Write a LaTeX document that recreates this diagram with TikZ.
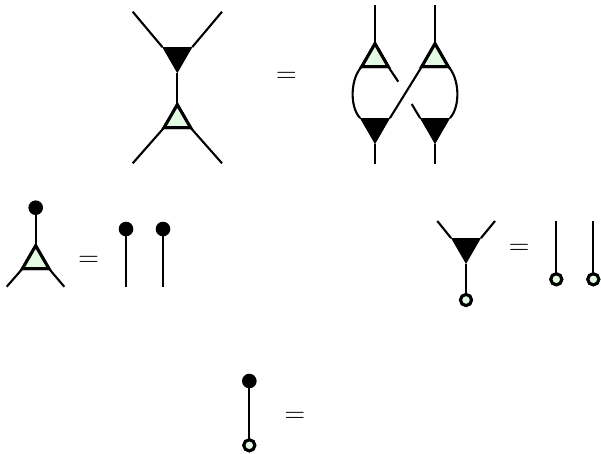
\documentclass[tikz,border=0pt]{standalone}
\usetikzlibrary{shapes.geometric}
\definecolor{paleg}{HTML}{E2F9E2}
\tikzset{
  wire/.style={line width=2.1pt,black},
  gtri/.style={regular polygon,regular polygon sides=3,minimum size=30.5pt,inner sep=0pt,outer sep=0pt,draw=black,fill=paleg,line width=3pt},
  btri/.style={regular polygon,regular polygon sides=3,shape border rotate=180,minimum size=34.5pt,inner sep=0pt,outer sep=0pt,fill=black},
  bdot/.style={circle,minimum size=14.6pt,inner sep=0pt,outer sep=0pt,fill=black},
  wdot/.style={circle,minimum size=11pt,inner sep=0pt,outer sep=0pt,draw=black,fill=paleg,line width=3pt},
  eqn/.style={inner sep=0pt,outer sep=0pt,font=\fontsize{28.5}{30}\selectfont}
}
\begin{document}
\begin{tikzpicture}[x=1pt,y=-1pt]
\useasboundingbox (0,0) rectangle (601,453);
% top left
\node[btri] (a1) at (177.3,55.7) {};
\node[gtri] (a2) at (177.3,120) {};
\coordinate (a3) at (132.7,11.7);
\coordinate (a4) at (222,11.7);
\coordinate (a5) at (132.7,163.3);
\coordinate (a6) at (222,163.3);
\draw[wire] (a3) -- (a1.corner 3);
\draw[wire] (a4) -- (a1.corner 2);
\draw[wire] (a1.corner 1) -- (a2.corner 1);
\draw[wire] (a5) -- (a2.corner 2);
\draw[wire] (a6) -- (a2.corner 3);
\node[btri] at (a1) {};
\node[gtri] at (a2) {};
\node[eqn] (e1) at (286.3,77.5) {=};
% top right
\coordinate (b1t) at (375,5);
\coordinate (b2t) at (435,5);
\coordinate (b3b) at (375,164);
\coordinate (b4b) at (435,164);
\coordinate (c1) at (398.3,81.7);
\coordinate (c2) at (411.7,104);
\node[gtri] (b1) at (375,59) {};
\node[gtri] (b2) at (435,59) {};
\node[btri] (b3) at (375,126.7) {};
\node[btri] (b4) at (435,126.7) {};
\draw[wire] (b1t) -- (b1.corner 1);
\draw[wire] (b2t) -- (b2.corner 1);
\draw[wire] (b3.corner 1) -- (b3b);
\draw[wire] (b4.corner 1) -- (b4b);
\draw[wire] (b1.corner 2) .. controls +(-11,11) and +(-11,-12) .. (b3.corner 3);
\draw[wire] (b2.corner 3) .. controls +(11,11) and +(11,-12) .. (b4.corner 2);
\draw[wire] (b2.corner 2) -- (b3.corner 2);
\draw[wire] (b1.corner 3) -- (c1);
\draw[wire] (c2) -- (b4.corner 3);
\node[gtri] at (b1) {};
\node[gtri] at (b2) {};
\node[btri] at (b3) {};
\node[btri] at (b4) {};
% middle left
\node[bdot] (d1) at (35.7,207.7) {};
\node[gtri] (d2) at (35.7,261) {};
\coordinate (d3) at (6.7,286.7);
\coordinate (d4) at (64.3,286.7);
\draw[wire] (d1) -- (d2.corner 1);
\draw[wire] (d3) -- (d2.corner 2);
\draw[wire] (d4) -- (d2.corner 3);
\node[gtri] at (d2) {};
\node[eqn] (e2) at (88.7,261) {=};
\node[bdot] (f1) at (126,229) {};
\node[bdot] (f2) at (163,229) {};
\coordinate (f3) at (126,286.7);
\coordinate (f4) at (163,286.7);
\draw[wire] (f1) -- (f3);
\draw[wire] (f2) -- (f4);
% middle right
\node[btri] (g1) at (466,246.7) {};
\node[wdot] (g2) at (466,300) {};
\coordinate (g3) at (437.3,221);
\coordinate (g4) at (495,221);
\draw[wire] (g3) -- (g1.corner 3);
\draw[wire] (g4) -- (g1.corner 2);
\draw[wire] (g1.corner 1) -- (g2);
\node[wdot] at (g2) {};
\node[eqn] (e3) at (519,249) {=};
\coordinate (h3) at (556.3,221);
\coordinate (h4) at (593.3,221);
\node[wdot] (h1) at (556.3,279.3) {};
\node[wdot] (h2) at (593.3,279.3) {};
\draw[wire] (h3) -- (h1);
\draw[wire] (h4) -- (h2);
\node[wdot] at (h1) {};
\node[wdot] at (h2) {};
% bottom
\node[bdot] (i1) at (249.3,381) {};
\node[wdot] (i2) at (249.3,445.3) {};
\draw[wire] (i1) -- (i2);
\node[wdot] at (i2) {};
\node[eqn] (e4) at (295,417) {=};
\end{tikzpicture}
\end{document}
